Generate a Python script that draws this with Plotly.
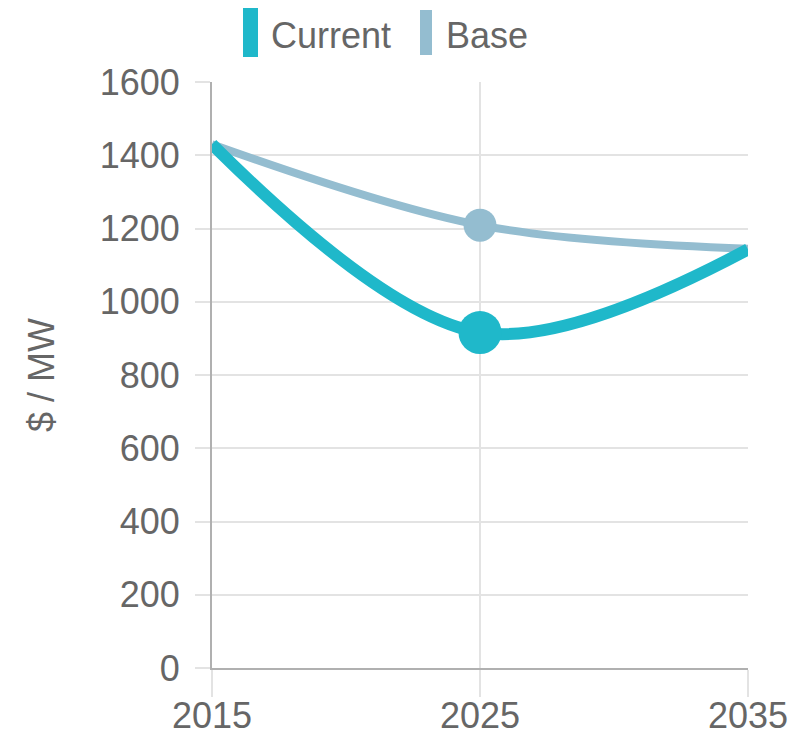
import plotly.graph_objects as go

years = [2015, 2025, 2035]
current = [1430, 916, 1143]
base = [1430, 1209, 1145]
series_names = ["Current", "Base"]
y_ticks = [0, 200, 400, 600, 800, 1000, 1200, 1400, 1600]
x_ticks = [2015, 2025, 2035]

C_CUR = "#1fb8ca"
C_BASE = "#94bdd0"
TXT = "#666666"
FONT = "Liberation Sans, Arial, Helvetica, sans-serif"

W, H = 792, 735
L, R, T, B = 212, 44, 82, 67

fig = go.Figure()
fig.add_trace(go.Scatter(
    x=years, y=base, name="Base", mode="lines+markers",
    line=dict(color=C_BASE, width=8, shape="spline", smoothing=1.0),
    marker=dict(size=[0, 33, 0], color=C_BASE, opacity=1, line=dict(width=0)),
    showlegend=False, cliponaxis=False))
fig.add_trace(go.Scatter(
    x=years, y=current, name="Current", mode="lines+markers",
    line=dict(color=C_CUR, width=12, shape="spline", smoothing=1.0),
    marker=dict(size=[0, 43, 0], color=C_CUR, opacity=1, line=dict(width=0)),
    showlegend=False, cliponaxis=False))

pw = W - L - R
ph = H - T - B
def px(x):
    return (x - L) / pw
def py(y):
    return (H - B - y) / ph

# custom legend (vertical bars + labels)
legend_items = [("Current", C_CUR, 243, 258, 8, 57, 270),
                ("Base", C_BASE, 420, 432, 10, 55, 445)]
for name, col, x0, x1, y0, y1, tx in legend_items:
    fig.add_shape(type="rect", xref="paper", yref="paper",
                  x0=px(x0), x1=px(x1), y0=py(y1), y1=py(y0),
                  fillcolor=col, line=dict(width=0))
    fig.add_annotation(xref="paper", yref="paper", x=px(tx), y=py(36),
                       text=name, showarrow=False, xanchor="left", yanchor="middle",
                       font=dict(size=36, color=TXT, family=FONT), borderpad=0)

fig.update_layout(
    width=W, height=H,
    margin=dict(l=L, r=R, t=T, b=B, pad=0, autoexpand=False),
    paper_bgcolor="white", plot_bgcolor="white",
    font=dict(family=FONT, size=36, color=TXT),
    showlegend=False,
    xaxis=dict(range=[2015, 2035], tickvals=x_ticks, ticktext=[str(v) for v in x_ticks],
               automargin=False,
               showgrid=True, gridcolor="#e3e3e3", gridwidth=2,
               showline=True, linecolor="#b0b0b0", linewidth=2,
               ticks="outside", ticklen=27, tickwidth=2, tickcolor="#e3e3e3",
               ticklabelstandoff=-12,
               zeroline=False, tickfont=dict(size=36, color=TXT)),
    yaxis=dict(range=[0, 1600], tickvals=y_ticks, automargin=False,
               showgrid=True, gridcolor="#e3e3e3", gridwidth=2,
               showline=True, linecolor="#b0b0b0", linewidth=2,
               ticks="outside", ticklen=15, tickwidth=2, tickcolor="#e3e3e3",
               zeroline=False, tickfont=dict(size=36, color=TXT),
               ticklabelstandoff=8,
               title=dict(text="$ / MW", font=dict(size=36, color=TXT), standoff=34)),
)

fig.write_html("out.html")
